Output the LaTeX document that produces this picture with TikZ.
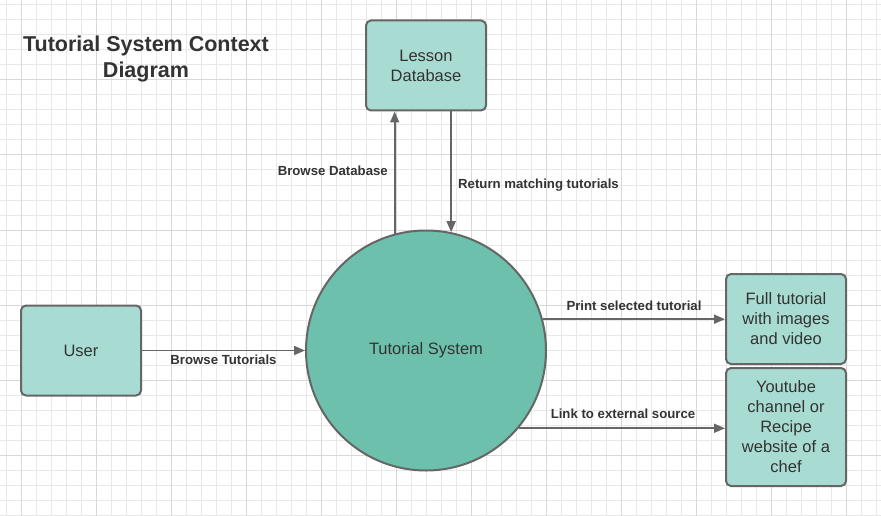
\documentclass[tikz,border=0pt]{standalone}
\usepackage{fontspec}
\setmainfont{Liberation Sans}
\usetikzlibrary{arrows.meta}
\definecolor{boxfill}{HTML}{A8DBD2}
\definecolor{circfill}{HTML}{6CC0AC}
\definecolor{edge}{HTML}{666666}
\definecolor{txt}{HTML}{333333}
\definecolor{gridminor}{HTML}{E8E8E8}
\definecolor{gridmajor}{HTML}{D8D8D8}
\tikzset{
  entity/.style={draw=edge, line width=2pt, fill=boxfill, rounded corners=5pt,
    minimum width=120pt, minimum height=90pt, inner sep=2pt, align=center,
    text=txt, font=\fontsize{16.5}{20}\selectfont},
  proc/.style={draw=edge, line width=2pt, fill=circfill, circle, minimum size=240pt,
    inner sep=0pt, text=txt, font=\fontsize{16.5}{20}\selectfont},
  flow/.style={draw=edge, line width=1.7pt, -{Triangle[length=11pt,width=9pt]}},
  lbl/.style={text=txt, font=\bfseries\fontsize{13.2}{15}\selectfont, inner sep=1pt},
}
\begin{document}
\begin{tikzpicture}[x=1pt,y=-1pt]
\useasboundingbox (0,0) rectangle (881,516);
\fill[white] (0,0) rectangle (881,516);
% grid
\foreach \i in {0,...,59} {
  \pgfmathsetmacro{\xx}{6.7+15*\i}
  \draw[gridminor, line width=1pt] (\xx,0) -- (\xx,516);
}
\foreach \i in {0,...,34} {
  \pgfmathsetmacro{\yy}{5+15*\i}
  \draw[gridminor, line width=1pt] (0,\yy) -- (881,\yy);
}
\foreach \i in {0,...,11} {
  \pgfmathsetmacro{\xx}{21.7+75*\i}
  \draw[gridmajor, line width=1pt] (\xx,0) -- (\xx,516);
}
\foreach \i in {0,...,6} {
  \pgfmathsetmacro{\yy}{80+75*\i}
  \draw[gridmajor, line width=1pt] (0,\yy) -- (881,\yy);
}
% title
\node[text=txt, font=\bfseries\fontsize{21.5}{26}\selectfont, align=center] (title) at (146,59) {Tutorial System Context\\Diagram};
% nodes
\node[entity] (lesson) at (426,65.5) {Lesson\\Database};
\node[entity] (user) at (81,350.5) {User};
\node[proc] (sys) at (426,350.5) {Tutorial System};
\node[entity] (full) at (786,319) {Full tutorial\\with images\\and video};
\node[entity, minimum height=118pt] (yt) at (786,427) {Youtube\\channel or\\Recipe\\website of a\\chef};
% flows
\draw[flow] (user.east) -- (sys.west);
\node[lbl] (l1) at (223.5,360) {Browse Tutorials};
\draw[flow] (sys.105) -- (sys.105 |- lesson.south);
\node[lbl, anchor=east] (l2) at (389,171) {Browse Database};
\draw[flow] (sys.78 |- lesson.south) -- (sys.78);
\node[lbl, anchor=west] (l3) at (457,185) {Return matching tutorials};
\draw[flow] (sys.15) -- (sys.15 -| full.west);
\node[lbl] (l4) at (634,306) {Print selected tutorial};
\draw[flow] (sys.-40) -- (sys.-40 -| yt.west);
\node[lbl] (l5) at (623,414) {Link to external source};
\end{tikzpicture}
\end{document}
